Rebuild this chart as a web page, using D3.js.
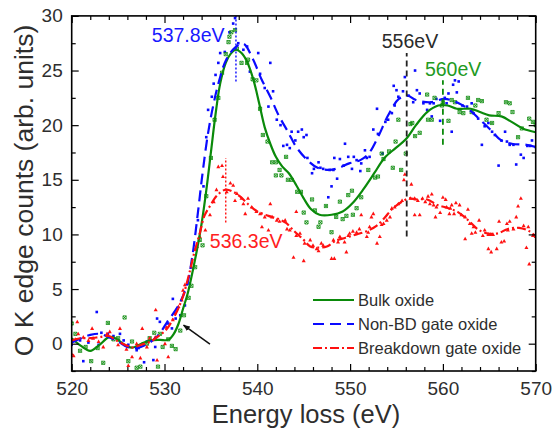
<!DOCTYPE html>
<html><head><meta charset="utf-8">
<script src="https://cdn.jsdelivr.net/npm/d3@7"></script>
<style>html,body{margin:0;padding:0;background:#fff;}svg{display:block;}text{font-family:Arial,"Liberation Sans",sans-serif;}</style>
</head><body><svg id="c" width="554" height="429"></svg>
<script>
// ---- data ----
const xDomain = [520, 570];
const yDomain = [-2.5, 30];
const xMajorTicks = [520, 530, 540, 550, 560, 570];
const yMajorTicks = [0, 5, 10, 15, 20, 25, 30];

const seriesNames = ["Bulk oxide", "Non-BD gate oxide", "Breakdown gate oxide"];

// smoothed curves [energy, counts]
const bulkCurve = [[520,0.5],[521,-0.2],[522,-0.65],[523,-0.1],[524,0.6],[524.6,0.55],[525.2,0.2],[526,-0.25],[526.6,-0.35],[527.5,0],[528.5,0.3],[529.5,0.35],[530.4,0.35],[531,0.9],[531.5,1.8],[532,3.2],[532.5,4.6],[533,6.5],[533.5,8.6],[534,11],[534.5,14],[535,17.5],[535.5,21],[536,23.8],[536.6,25.7],[537.1,26.5],[537.7,26.9],[538.3,26.6],[538.9,25.8],[539.6,24.1],[540.2,22],[540.8,19.8],[541.4,18.3],[542,17.1],[542.7,16.2],[543.4,15.6],[544.2,14.5],[545,13.3],[545.8,12.3],[546.7,11.8],[548,11.8],[549.2,12.1],[550.3,12.9],[551.4,14.1],[552.6,15.6],[553.7,17],[554.9,17.9],[556,18.7],[557.1,20],[558.3,21.2],[559.5,21.8],[560.5,21.8],[561.5,21.5],[563,21.5],[564,21.2],[565,20.9],[566.3,20.8],[567.4,20.3],[568.6,19.7],[570,19.35]];
const nonbdCurve = [[520,0.1],[521,0.5],[522,0.8],[523,0.9],[524,0.6],[525,0.2],[526,-0.3],[527,-0.4],[528,-0.1],[529,0.5],[529.7,1.2],[530.3,2.0],[531.5,3.5],[532.4,5.3],[533,8],[533.6,12],[534.1,15.6],[534.7,19.3],[535.3,22],[535.9,24.1],[536.6,25.9],[537.6,27.1],[538.5,27.45],[539.5,26.1],[540.4,24.3],[541.4,22.6],[542.3,20.9],[543.3,19.4],[544.2,18],[545.4,16.8],[546.5,16.1],[547.8,15.9],[548.8,16.1],[549.9,16.5],[551.1,16.8],[552,17.4],[553,18.9],[554.1,20.9],[555.25,22.4],[556.2,22.7],[557.1,22.3],[558.7,22.1],[560.2,22.4],[561.7,22],[562.85,21.4],[564,20.5],[565.1,19.6],[566.3,18.6],[567.4,18.3],[569,18.2],[570,18]];
const bdCurve = [[520,0.3],[521,0.5],[522,0.5],[523,0.6],[524,0.7],[525,0.2],[526,-0.2],[526.6,-0.35],[527.5,-0.1],[528.5,0.2],[529.2,0.6],[530.2,1.3],[531.1,2.55],[531.9,4.1],[532.6,6.2],[533.2,8.3],[533.8,10.1],[534.3,11.7],[534.9,12.6],[535.7,13.6],[536.6,14.1],[537.4,13.9],[538.1,13.5],[539.1,12.7],[540,12.1],[541.2,11.7],[542.3,11.4],[543.1,11.05],[543.8,10.45],[545,9.5],[545.7,8.9],[546.5,8.8],[547.5,8.9],[548.4,9.4],[549.5,9.7],[550.7,10],[551.8,10.3],[552.8,10.75],[553.7,11.5],[554.5,12.3],[555.6,13],[556.4,13.3],[557.1,13.2],[558.3,13.2],[559.4,12.7],[560.6,12.4],[561.7,12],[562.85,11.2],[563.8,10.45],[564.75,10.1],[565.9,10.1],[567,10.5],[568.2,10.6],[569.3,10.3],[570,9.8]];

// raw data points [energy, counts]
const bulkPts = [[520,1.85],[520.4,0.9],[520.9,-0.65],[521.5,-0.3],[522.1,-1.6],[522.8,-0.4],[523.4,-1.75],[523.9,1.9],[524.5,0.4],[525,0.5],[525.7,2.4],[526.1,-1.6],[526.5,0.2],[527,-2.2],[527.4,-2.1],[528.1,0],[528.4,0.5],[528.9,1.0],[529.3,-2.1],[529.5,0.9],[529.8,-0.3],[530.4,0.4],[530.8,-0.2],[531.2,-0.5],[531.7,1.2],[532.1,2.6],[532.6,4.2],[532.9,5.3],[533.3,7.0],[533.8,9.5],[534.1,9.0],[534.5,13.5],[535,17],[535.4,20.5],[535.8,22.5],[536.2,24.8],[536.6,26.5],[536.9,27.6],[537,28.1],[537.2,28.5],[537.6,28.7],[537.8,27],[538.3,25.7],[538.9,25.7],[539,26],[539.5,24.2],[539.9,24.1],[540.3,21.5],[540.6,19.1],[541.1,18.5],[541.6,16.6],[542,16.6],[542,15.4],[542.4,15.9],[542.6,15.4],[543.1,17.1],[543.3,15],[543.7,15],[544.3,13.9],[544.7,13.9],[545,12],[545.3,11.1],[545.9,13.2],[546.2,12.2],[546.6,10.7],[546.8,11.1],[547.4,12.6],[548,10.2],[548.5,11.6],[548.9,13],[549.2,11.4],[549.6,11.7],[549.8,13.6],[550.2,14],[550.3,11.8],[550.7,12.4],[551.2,13.4],[551.96,15.9],[552.7,15.2],[553,15.3],[553.4,17.4],[553.6,16.9],[554.2,17.6],[554.6,16.1],[554.9,18.5],[555.2,20.5],[555.5,15.9],[556,17.4],[556.5,20.1],[556.7,20.2],[557,19],[557.5,19.3],[558.3,22.8],[558.4,20.5],[558.8,20.5],[559.1,22.5],[559.9,21.8],[560,22.1],[560.6,20.4],[560.95,22.3],[561.3,22.1],[561.8,21.2],[562.2,21.1],[562.7,22.5],[563.1,21.2],[563.5,21.8],[563.8,22.3],[564.2,22.2],[564.7,20.5],[565.3,20.2],[566,21.1],[566.8,22.1],[567.2,22],[567.5,21.2],[568.1,18.9],[568.5,19.7],[569.3,20.6],[569.7,20.3],[570,20]];
const nonbdPts = [[520,-0.1],[520.9,0.3],[521.25,-1.6],[521.8,0.1],[522.7,2.9],[522.9,-0.1],[523.2,1.0],[523.9,0.9],[524.5,0.7],[525.2,0.9],[525.6,0.3],[526.1,-0.1],[527,-0.6],[527.2,-0.4],[527.8,-1.7],[528.1,0.2],[528.8,-1.5],[529,-0.3],[529.2,2.3],[529.5,2.0],[530.4,1.85],[530.8,1.4],[530.9,4.1],[531.2,2.3],[531.7,2.6],[532.2,3.5],[532.7,5.5],[533.3,8.6],[533.6,11.3],[534.2,14.4],[534.5,18.9],[534.7,21.4],[535.1,22.6],[535.3,23.8],[535.5,24.6],[535.8,25.7],[536,26.6],[536.5,26.7],[537,28.5],[537.4,29.3],[537.6,29.8],[537.95,27.5],[538.5,26.9],[538.9,27.2],[539.2,24.9],[540.1,26.6],[540.3,24.7],[540.8,23.4],[541.2,21.7],[541.4,25.7],[541.7,23.1],[542.1,20.5],[542.5,20],[542.8,18.1],[543.2,18.2],[543.5,17.9],[543.7,19.4],[544.1,18.6],[544.4,19.4],[544.8,19.6],[545,18.9],[545.3,19.1],[545.4,17],[545.9,15.6],[546.1,16],[546.6,16.6],[546.8,16.1],[547.1,16],[547.65,13.4],[547.8,15.9],[548,14.4],[548.2,15.9],[548.3,17],[548.6,15.1],[548.9,16.9],[549.3,16.3],[549.45,18.3],[549.8,17.1],[550.2,16],[550.4,17.1],[550.7,16.8],[551.1,15.8],[551.2,16.5],[551.6,17.7],[551.8,17],[552.1,17.1],[552.5,19.6],[552.9,21.5],[553,19.2],[553.5,17.4],[553.8,20.3],[554.1,20.5],[554.5,21.1],[554.7,23.6],[554.8,21.8],[555,23.2],[555.2,22.6],[555.7,23.1],[555.9,24.4],[556.3,22.7],[556.8,22.1],[557,25],[557.2,23.2],[557.5,22.9],[557.9,22],[558.3,21.4],[558.6,22],[558.8,20.8],[559,22],[559.3,22.4],[559.7,20.4],[560.2,22.5],[560.4,22],[560.6,22.9],[560.95,19.4],[561.1,23.7],[561.3,24.1],[561.5,23],[561.7,24],[562.1,21.8],[562.6,21.7],[563.1,22],[563.3,21.1],[563.8,20.6],[564.2,18.2],[564.5,19.9],[564.9,20.2],[565.3,19.4],[565.6,19.1],[566,16.3],[566.3,18.6],[566.7,19.4],[566.9,18.5],[567.2,18.2],[567.6,18.2],[567.9,16.4],[568.4,17.3],[568.7,17],[569.1,18.1],[569.4,18.1],[569.6,18.6],[570,18]];
const bdPts = [[520,-0.95],[520.2,-1.1],[520.4,0.4],[520.6,2.0],[520.7,0.9],[521.25,0.6],[521.8,0.3],[522.2,1.4],[522.3,0.5],[522.9,0.2],[523.4,-0.3],[523.8,0.9],[524.1,1.1],[525,-0.1],[525.2,1.4],[525.9,-0.5],[526.1,-2.0],[526.5,-1.2],[527,0],[527.4,-1.3],[527.6,1.4],[528.1,-0.3],[528.4,0.5],[529,0.6],[529.05,3.1],[529.2,-1.5],[530.05,0],[530.2,1.5],[530.4,-1.2],[530.9,2.2],[531.1,2.8],[531.5,3.4],[531.85,4.0],[532,4.9],[532.2,5.4],[532.9,7.0],[533.5,8.9],[533.8,9.8],[534.4,10.4],[534.9,11.8],[535.3,13],[535.6,14.1],[535.8,16.2],[536.2,16.3],[536.3,15.3],[536.7,13.9],[537.1,14.7],[537.4,14.5],[537.6,13.1],[537.8,13.75],[538.3,13.3],[538.5,12.8],[538.7,11.9],[539,13.3],[539.4,12.5],[539.9,12.1],[540.3,11.9],[540.5,10.7],[540.8,11.6],[541.2,10.4],[541.4,12.8],[541.6,11.6],[542.1,11.3],[542.4,11.2],[543,11.3],[543.2,10.5],[543.5,10.4],[543.9,7.9],[544.2,12.1],[544.2,9.9],[544.6,10.1],[545,7.6],[545.1,9.2],[545.7,9.5],[546,9],[546.4,8.7],[546.6,8.5],[546.9,9.2],[547.1,9],[548,7.8],[548.2,9.5],[548.3,7.8],[548.7,9.3],[548.9,9.8],[549.4,9.3],[549.6,8.4],[549.8,9.9],[549.95,10.1],[550.3,10.3],[550.7,10.2],[551,10.5],[551.2,11.8],[551.8,9.8],[551.95,10.2],[552.1,10.7],[552.3,11.6],[552.5,11.9],[552.9,9.2],[553.2,9.8],[553.4,10.9],[553.6,11],[553.95,11.3],[554.3,11.6],[554.5,12.4],[554.8,12.5],[555.2,12.8],[555.6,13.1],[555.8,15],[555.9,15.5],[556.5,13.3],[556.6,14.6],[556.96,13.3],[556.96,11.8],[557.3,13.1],[557.5,11.8],[557.8,13.3],[558.1,13],[558.4,13.5],[558.6,12.8],[558.8,13.7],[559,12.7],[559.2,11.6],[559.3,12.5],[559.7,12],[560,13.4],[560.3,13.2],[560.4,12.5],[560.7,11.9],[560.8,12.4],[560.95,12.7],[561.2,11.9],[561.4,12.9],[561.8,12.7],[562,11.8],[562.4,11.6],[562.4,9.6],[562.7,12.3],[562.9,11],[563.1,10.1],[563.3,10.7],[563.5,10.2],[563.9,11.3],[564.3,9.9],[564.5,10.4],[564.9,10],[564.9,8.7],[565.1,10],[565.2,8.4],[565.4,10],[565.8,8.7],[566.05,11.2],[566.3,9.3],[566.6,9.4],[566.9,11],[567,10.4],[567.2,11.2],[567.6,10.5],[567.9,11.6],[568.1,12.6],[568.4,13.3],[568.7,10.8],[569,8.8],[569.2,10.7],[569.3,7.3],[569.7,9.9],[570,9.8]];

// peak annotations: vertical marker [energy, from, to] and label [energy, counts]
const peakLabels = ["537.8eV", "536.3eV", "556eV", "560eV"];
const peakMarkE = [537.7, 536.6, 556.1, 560.0];
const peakMarkFrom = [24.0, 11.1, 9.8, 18.2];
const peakMarkTo = [30.0, 17.0, 26.6, 24.1];
const peakLabelE = [532.55, 538.8, 556.45, 561.1];
const peakLabelV = [27.6, 8.8, 27.1, 24.5];
// onset arrow: tail -> head
const arrowFrom = [534.9, -0.05];
const arrowTo = [532.05, 1.7];

// ---- drawing ----
const W = 554, H = 429;
const m = {l: 71.7, r: 535.7, t: 15.9, b: 371};
const svg = d3.select("#c");
const x = d3.scaleLinear().domain(xDomain).range([m.l, m.r]);
const y = d3.scaleLinear().domain(yDomain).range([m.b, m.t]);

const GREEN = "#0a8a0a", BLUE = "#0a0aff", RED = "#ff1010", TXT = "#2e2e2e";
const colors = [GREEN, BLUE, RED];

svg.append("defs").append("clipPath").attr("id", "pc")
  .append("rect").attr("x", m.l).attr("y", m.t).attr("width", m.r - m.l).attr("height", m.b - m.t);

const plot = svg.append("g").attr("clip-path", "url(#pc)");

// scatter points
plot.append("g").selectAll("rect").data(nonbdPts).join("rect")
  .attr("x", d => x(d[0]) - 1.3).attr("y", d => y(d[1]) - 1.3)
  .attr("width", 2.6).attr("height", 2.6).attr("fill", BLUE);
plot.append("g").selectAll("path").data(bulkPts).join("path")
  .attr("transform", d => `translate(${x(d[0])},${y(d[1])})`)
  .attr("d", "M-1.6,-1.6H1.6V1.6H-1.6Z M-1.6,-1.6L1.6,1.6 M1.6,-1.6L-1.6,1.6")
  .attr("fill", "none").attr("stroke", GREEN).attr("stroke-width", 0.8);
plot.append("g").selectAll("path").data(bdPts).join("path")
  .attr("transform", d => `translate(${x(d[0])},${y(d[1])})`)
  .attr("d", "M0,-2.1L2,1.5H-2Z").attr("fill", RED);

// smooth curves
const line = d3.line().x(d => x(d[0])).y(d => y(d[1])).curve(d3.curveCatmullRom.alpha(0.5));
const curves = [bulkCurve, nonbdCurve, bdCurve];
const dashes = [null, "11,6", "9,3,2,3"];
curves.forEach((c, i) => {
  plot.append("path").attr("d", line(c)).attr("fill", "none")
    .attr("stroke", colors[i]).attr("stroke-width", 2.2)
    .attr("stroke-dasharray", dashes[i]);
});

// peak markers
const markColors = [BLUE, RED, "#222", GREEN];
const markDash = ["2,2", "2,2", "6,4", "6,4"];
peakMarkE.forEach((e, i) => {
  svg.append("line").attr("x1", x(e)).attr("x2", x(e))
    .attr("y1", y(peakMarkFrom[i])).attr("y2", y(peakMarkTo[i]))
    .attr("stroke", markColors[i]).attr("stroke-width", i < 2 ? 1.4 : 1.8)
    .attr("stroke-dasharray", markDash[i]);
});
const labelColors = ["#1818ff", "#ff2020", "#2a2a2a", "#229a22"];
peakLabels.forEach((t, i) => {
  svg.append("text").attr("x", x(peakLabelE[i])).attr("y", y(peakLabelV[i]))
    .attr("text-anchor", "middle").attr("font-size", 19.5)
    .attr("fill", labelColors[i]).text(t);
});

// arrow
svg.append("defs").append("marker").attr("id", "ah")
  .attr("viewBox", "0 0 10 10").attr("refX", 9).attr("refY", 5)
  .attr("markerWidth", 7).attr("markerHeight", 7).attr("orient", "auto")
  .attr("markerUnits", "userSpaceOnUse")
  .append("path").attr("d", "M0,1L10,5L0,9Z").attr("fill", "#111");
svg.append("line").attr("x1", x(arrowFrom[0])).attr("y1", y(arrowFrom[1]))
  .attr("x2", x(arrowTo[0])).attr("y2", y(arrowTo[1]))
  .attr("stroke", "#111").attr("stroke-width", 1.5).attr("marker-end", "url(#ah)");

// axes
const xMinor = d3.range(xDomain[0], xDomain[1] + 0.01, 2).filter(v => xMajorTicks.indexOf(v) < 0);
const yMinor = d3.range(yDomain[0], yDomain[1] + 0.01, 2.5).filter(v => yMajorTicks.indexOf(v) < 0);
function styleAxis(g) {
  g.select(".domain").remove();
  g.selectAll("line").attr("stroke", "#000").attr("stroke-width", 1.2);
  g.selectAll("text").attr("fill", TXT).attr("font-size", 19)
    .attr("font-family", "Arial, 'Liberation Sans', sans-serif");
}
svg.append("g").attr("transform", `translate(0,${m.b})`)
  .call(d3.axisBottom(x).tickValues(xMajorTicks).tickFormat(d3.format("d")).tickSize(-7).tickPadding(11))
  .call(styleAxis);
svg.append("g").attr("transform", `translate(0,${m.b})`)
  .call(d3.axisBottom(x).tickValues(xMinor).tickFormat("").tickSize(-4)).call(styleAxis);
svg.append("g").attr("transform", `translate(0,${m.t})`)
  .call(d3.axisTop(x).tickValues(xMajorTicks).tickFormat("").tickSize(-7)).call(styleAxis);
svg.append("g").attr("transform", `translate(0,${m.t})`)
  .call(d3.axisTop(x).tickValues(xMinor).tickFormat("").tickSize(-4)).call(styleAxis);
svg.append("g").attr("transform", `translate(${m.l},0)`)
  .call(d3.axisLeft(y).tickValues(yMajorTicks).tickFormat(d3.format("d")).tickSize(-7).tickPadding(9))
  .call(styleAxis);
svg.append("g").attr("transform", `translate(${m.l},0)`)
  .call(d3.axisLeft(y).tickValues(yMinor).tickFormat("").tickSize(-4)).call(styleAxis);
svg.append("g").attr("transform", `translate(${m.r},0)`)
  .call(d3.axisRight(y).tickValues(yMajorTicks).tickFormat("").tickSize(-7)).call(styleAxis);
svg.append("g").attr("transform", `translate(${m.r},0)`)
  .call(d3.axisRight(y).tickValues(yMinor).tickFormat("").tickSize(-4)).call(styleAxis);

// frame
svg.append("rect").attr("x", m.l).attr("y", m.t).attr("width", m.r - m.l).attr("height", m.b - m.t)
  .attr("fill", "none").attr("stroke", "#000").attr("stroke-width", 1.6);

// axis titles
svg.append("text").attr("x", 306).attr("y", 423).attr("text-anchor", "middle")
  .attr("font-size", 25.5).attr("fill", TXT).text("Energy loss (eV)");
svg.append("text").attr("transform", `translate(32.5,${(m.t + m.b) / 2 - 3}) rotate(-90)`)
  .attr("text-anchor", "middle").attr("font-size", 26.5).attr("fill", TXT)
  .text("O K edge counts (arb. units)");

// legend
const lg = svg.append("g");
const legY = [300, 324, 348];
seriesNames.forEach((n, i) => {
  lg.append("line").attr("x1", 313).attr("x2", 354).attr("y1", legY[i]).attr("y2", legY[i])
    .attr("stroke", colors[i]).attr("stroke-width", 2.2).attr("stroke-dasharray", dashes[i]);
  lg.append("text").attr("x", 358).attr("y", legY[i]).attr("dy", "0.36em")
    .attr("font-size", 16.5).attr("fill", TXT).text(n);
});
</script>
</body></html>
